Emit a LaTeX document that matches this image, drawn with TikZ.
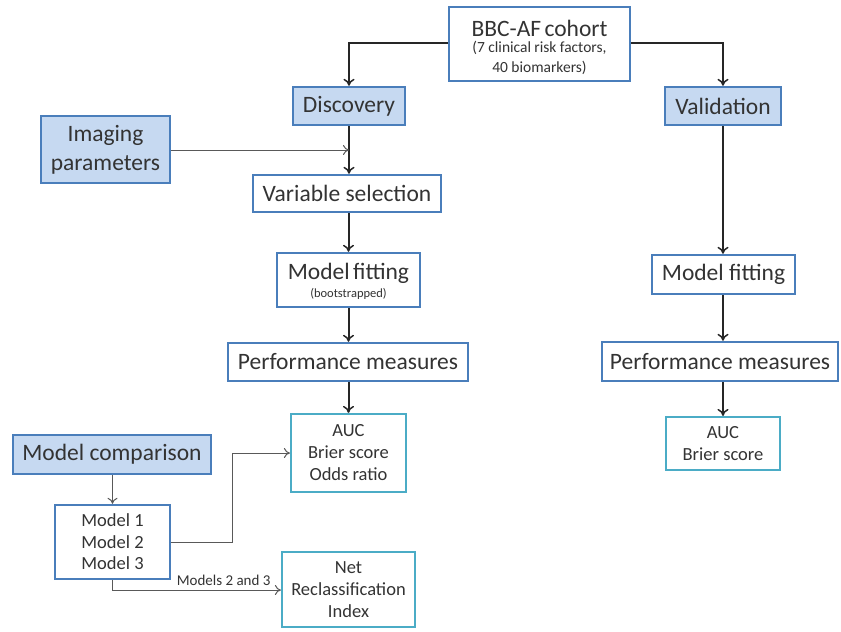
\documentclass[tikz,border=0pt]{standalone}
\usepackage{fontspec}
\setmainfont{Carlito}
\usetikzlibrary{arrows.meta}
\definecolor{bblue}{HTML}{4A7EBB}
\definecolor{fblue}{HTML}{C6D9F1}
\definecolor{cyanb}{HTML}{4BACC6}
\definecolor{tgray}{HTML}{333333}
\tikzset{
  box/.style={draw=bblue, line width=2.4pt, fill=white, inner sep=0pt, align=center, text=tgray},
  fbox/.style={box, fill=fblue},
  cbox/.style={draw=cyanb, line width=2.2pt, fill=white, inner sep=0pt, align=center, text=tgray},
  thick arrow/.style={draw=black!85, line width=2pt, -{To[length=7pt,width=11pt,line width=1.5pt]}},
  thin arrow/.style={draw=black!65, line width=1pt, -{To[length=6pt,width=10pt]}},
  big/.style={font=\fontsize{23.5}{26}\selectfont},
}
\begin{document}
\begin{tikzpicture}[x=1pt,y=-1pt]
\useasboundingbox (0,0) rectangle (841,632);
% nodes (centers / sizes in px)
\node[box, minimum width=181pt, minimum height=74pt, text width=176pt] (cohort) at (539.5,44)
  {{\fontsize{23.5}{24}\selectfont BBC-AF cohort\par}\vspace{-3.5pt}{\fontsize{15.5}{19.5}\selectfont (7 clinical risk factors,\par 40 biomarkers)\par}\vspace{-7pt}};
\node[fbox, big, minimum width=112pt, minimum height=38pt] (disc) at (349,106) {Discovery};
\node[fbox, big, minimum width=116pt, minimum height=38pt] (valid) at (723,106) {Validation};
\node[fbox, minimum width=129pt, minimum height=67pt, font=\fontsize{23.5}{29}\selectfont] (imag) at (105.5,149.5) {Imaging\\parameters};
\node[box, big, minimum width=188pt, minimum height=37pt] (varsel) at (347,193.5) {Variable selection};
\node[box, minimum width=143pt, minimum height=54pt, text width=138pt] (mfit) at (348.5,280)
  {{\fontsize{23.5}{24}\selectfont Model fitting\par}\vspace{3.5pt}{\fontsize{12.5}{14}\selectfont (bootstrapped)\par}\vspace{-3pt}};
\node[box, big, minimum width=240pt, minimum height=38pt] (perf) at (348,362) {Performance measures};
\node[cbox, minimum width=115pt, minimum height=78pt, font=\fontsize{18.5}{22}\selectfont] (auc) at (348.5,453) {AUC\\Brier score\\Odds ratio};
\node[fbox, big, minimum width=198pt, minimum height=39pt] (mcomp) at (112,454.5) {Model comparison};
\node[box, minimum width=115pt, minimum height=74pt, font=\fontsize{18.5}{21.5}\selectfont] (models) at (112.5,542) {Model 1\\Model 2\\Model 3};
\node[cbox, minimum width=133pt, minimum height=75pt, font=\fontsize{18.5}{22}\selectfont] (nri) at (348.5,589.5) {Net\\Reclassification\\Index};
\node[box, big, minimum width=143pt, minimum height=39pt] (vfit) at (723.5,274.5) {Model fitting};
\node[box, big, minimum width=236pt, minimum height=39pt] (vperf) at (720,361.5) {Performance measures};
\node[cbox, minimum width=114pt, minimum height=53pt, font=\fontsize{18.5}{22}\selectfont] (vauc) at (723,443.5) {AUC\\Brier score};
% connectors
\draw[thick arrow] (cohort.west |- 0,43) -| (disc.north);
\draw[thick arrow] (cohort.east |- 0,43) -| (valid.north);
\draw[thick arrow] (disc.south) -- (varsel.north -| disc.south);
\draw[thin arrow] (imag.east |- 0,150) -- (disc.south |- 0,150);
\draw[thick arrow] (varsel.south -| mfit.north) -- (mfit.north);
\draw[thick arrow] (mfit.south) -- (perf.north -| mfit.south);
\draw[thick arrow] (perf.south -| mfit.south) -- (auc.north -| mfit.south);
\draw[thick arrow] (valid.south) -- (vfit.north -| valid.south);
\draw[thick arrow] (vfit.south -| valid.south) -- (vperf.north -| valid.south);
\draw[thick arrow] (vperf.south -| valid.south) -- (vauc.north -| valid.south);
\draw[thin arrow] (mcomp.south -| models.north) -- (models.north);
\draw[thin arrow] (models.east |- 0,542) -- (232,542) |- (auc.west |- 0,453);
\draw[thin arrow] (models.south) -- (112.5,590) -- node[above=1pt, pos=0.66, font=\fontsize{15}{16}\selectfont, text=tgray] {Models 2 and 3} (nri.west |- 0,590);
\end{tikzpicture}
\end{document}
